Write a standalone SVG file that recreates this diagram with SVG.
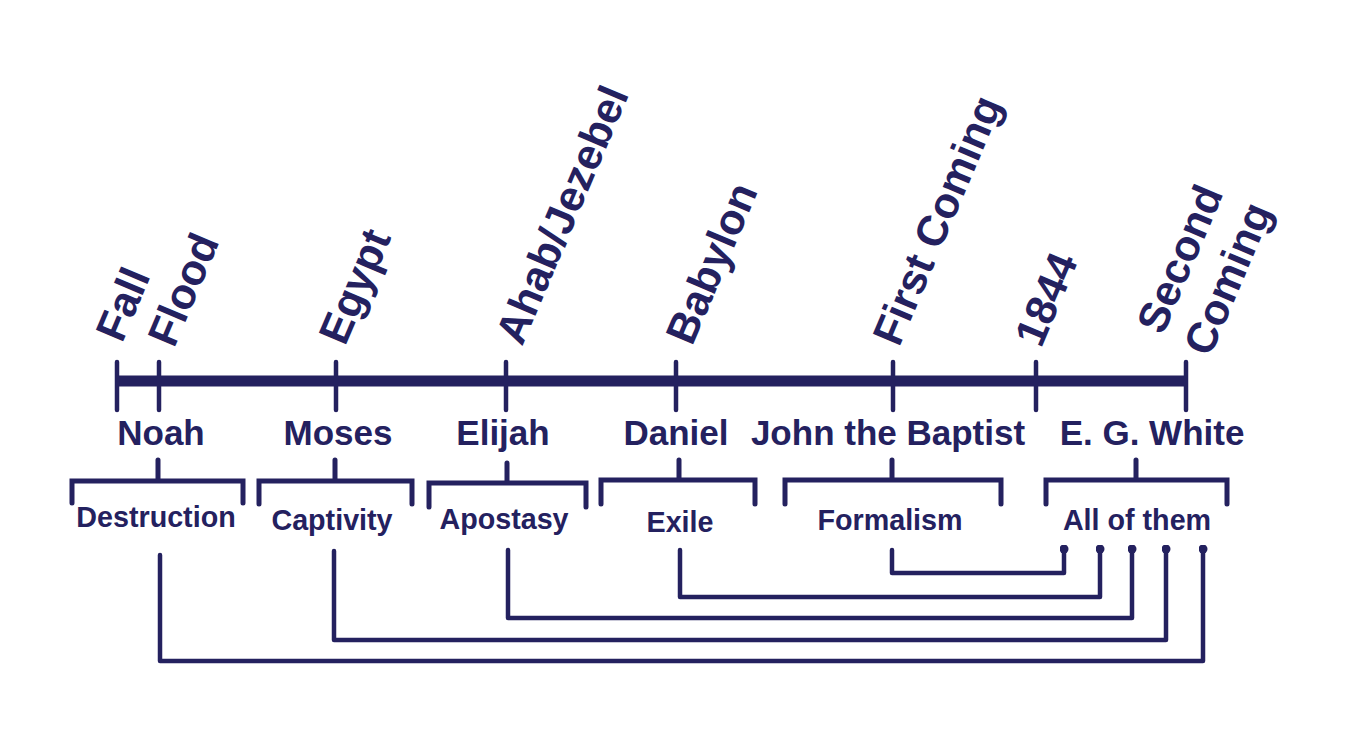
<svg xmlns="http://www.w3.org/2000/svg" width="1363" height="750" viewBox="0 0 1363 750">
<defs>
<style>
.t{font-family:"Liberation Sans",Arial,sans-serif;font-weight:bold;fill:#24215f}
.era{font-size:43px}
.name{font-size:35px;text-anchor:middle}
.cat{font-size:28.7px;text-anchor:middle}
.ln{fill:none;stroke:#24215f;stroke-width:4.5;stroke-linecap:round;stroke-linejoin:round}
.br{fill:none;stroke:#24215f;stroke-width:5;stroke-linecap:round;stroke-linejoin:miter}
</style>
<marker id="dot" viewBox="0 0 10 10" refX="5" refY="5" markerWidth="2" markerHeight="2" markerUnits="strokeWidth">
<circle cx="5" cy="5" r="5" fill="#24215f"/>
</marker>
</defs>
<rect width="1363" height="750" fill="#ffffff"/>
<g id="timeline">
<line x1="117" y1="381" x2="1186" y2="381" stroke="#24215f" stroke-width="11"/>
<g class="ln">
<line x1="117" y1="362" x2="117" y2="410"/>
<line x1="159" y1="362" x2="159" y2="410"/>
<line x1="336" y1="362" x2="336" y2="410"/>
<line x1="506" y1="362" x2="506" y2="410"/>
<line x1="676" y1="362" x2="676" y2="410"/>
<line x1="893" y1="362" x2="893" y2="410"/>
<line x1="1036" y1="362" x2="1036" y2="410"/>
<line x1="1186" y1="362" x2="1186" y2="410"/>
</g>
</g>
<g id="eras">
<text class="t era" transform="translate(122,344) rotate(-67)">Fall</text>
<text class="t era" transform="translate(174,349) rotate(-67)">Flood</text>
<text class="t era" transform="translate(345,347) rotate(-67)">Egypt</text>
<text class="t era" transform="translate(522,347) rotate(-67)">Ahab/Jezebel</text>
<text class="t era" transform="translate(692,347) rotate(-67)">Babylon</text>
<text class="t era" transform="translate(899,348) rotate(-67)">First Coming</text>
<text class="t era" transform="translate(1041,349) rotate(-67)">1844</text>
<text class="t era" transform="translate(1163,336) rotate(-67)">Second</text>
<text class="t era" transform="translate(1210,358) rotate(-67)">Coming</text>
</g>
<g id="noah">
<text class="t name" x="161" y="445">Noah</text>
<path class="br" d="M158 460 V481 M72 503 V481 H243 V503"/>
<text class="t cat" x="156" y="527">Destruction</text>
</g>
<g id="moses">
<text class="t name" x="338" y="445">Moses</text>
<path class="br" d="M335 460 V481 M259 504 V481 H412 V504"/>
<text class="t cat" x="332" y="530">Captivity</text>
</g>
<g id="elijah">
<text class="t name" x="503" y="445">Elijah</text>
<path class="br" d="M507 463 V483 M429 507 V483 H586 V507"/>
<text class="t cat" x="504" y="529">Apostasy</text>
</g>
<g id="daniel">
<text class="t name" x="676" y="445">Daniel</text>
<path class="br" d="M679 460 V480 M601 504 V480 H755 V504"/>
<text class="t cat" x="680" y="532">Exile</text>
</g>
<g id="john">
<text class="t name" x="888" y="445">John the Baptist</text>
<path class="br" d="M892 460 V480 M785 504 V480 H1001 V504"/>
<text class="t cat" x="890" y="530">Formalism</text>
</g>
<g id="white">
<text class="t name" x="1152" y="445">E. G. White</text>
<path class="br" d="M1136 460 V480 M1046 504 V480 H1227 V504"/>
<text class="t cat" x="1137" y="530">All of them</text>
</g>
<g id="connectors" class="ln">
<path d="M160 555 V661 H1203 V549" marker-end="url(#dot)"/>
<path d="M334 551 V640 H1166 V549" marker-end="url(#dot)"/>
<path d="M508 550 V618 H1132 V549" marker-end="url(#dot)"/>
<path d="M680 550 V597 H1100 V549" marker-end="url(#dot)"/>
<path d="M892 550 V573 H1064 V549" marker-end="url(#dot)"/>
</g>
</svg>
